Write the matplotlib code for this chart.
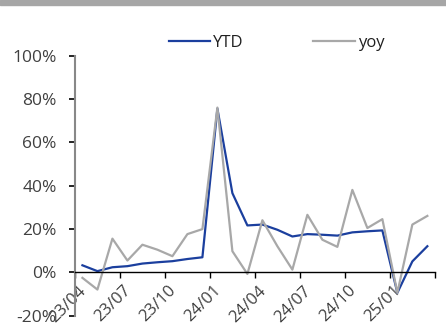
import matplotlib.pyplot as plt
import matplotlib.transforms as mtransforms
from matplotlib.patches import Rectangle

# monthly growth, 2023/04 - 2025/03 (%)
months = ['23/04', '23/05', '23/06', '23/07', '23/08', '23/09', '23/10', '23/11',
          '23/12', '24/01', '24/02', '24/03', '24/04', '24/05', '24/06', '24/07',
          '24/08', '24/09', '24/10', '24/11', '24/12', '25/01', '25/02', '25/03']
ytd = [3.2, 0.5, 2.3, 2.8, 4.0, 4.6, 5.1, 6.1, 6.9, 75.5, 36.5, 21.6,
       22.0, 19.6, 16.5, 17.6, 17.3, 16.9, 18.4, 18.9, 19.3, -9.5, 5.0, 12.0]
yoy = [-2.6, -8.0, 15.5, 5.4, 12.7, 10.4, 7.4, 17.6, 19.9, 76.0, 9.7, -0.8,
       24.0, 12.0, 1.2, 26.5, 15.0, 11.7, 38.0, 20.4, 24.5, -9.5, 22.0, 26.0]
tick_labels = ['23/04', '23/07', '23/10', '24/01', '24/04', '24/07', '24/10', '25/01', '']

plt.rcParams['font.family'] = ['Open Sans', 'DejaVu Sans']
fig = plt.figure(figsize=(4.46, 3.27), dpi=100)
ax = fig.add_axes([0.168, 0.035, 0.807, 0.795])

x = [i + 0.5 for i in range(len(months))]
ax.plot(x, ytd, color='#1b3f9e', lw=1.6, label='YTD')
ax.plot(x, yoy, color='#a8a8a8', lw=1.6, label='yoy')

# axis styling (spine position first, it resets the ticks)
for s in ['top', 'right']:
    ax.spines[s].set_visible(False)
ax.spines['bottom'].set_position(('data', 0))
ax.spines['bottom'].set_color('black')
ax.spines['bottom'].set_linewidth(1.0)
ax.spines['left'].set_color('#888888')
ax.spines['left'].set_linewidth(1.5)

ax.set_xlim(0, 24)
ax.set_ylim(-20, 100)
ax.set_yticks(range(-20, 101, 20))
ax.set_yticklabels([f'{v}%' for v in range(-20, 101, 20)], fontsize=12.5, color='#404040')
ax.set_xticks(range(0, 25, 3))
ax.set_xticklabels(tick_labels, fontsize=12, color='#404040',
                   rotation=45, ha='right', va='top', rotation_mode='anchor')
ax.tick_params(axis='x', direction='out', length=4, width=1, color='black', pad=3)
ax.tick_params(axis='y', direction='out', length=4, width=1.2, color='black', pad=9)
offset = mtransforms.ScaledTranslation(2 / 72, -0.5 / 72, fig.dpi_scale_trans)
for lbl in ax.get_xticklabels():
    lbl.set_transform(lbl.get_transform() + offset)

fig.legend(loc='center', bbox_to_anchor=(0.62, 0.868), ncol=2, frameon=False,
           fontsize=12, handlelength=2.5, columnspacing=4.2, handletextpad=0.15,
           labelcolor='#202020')

# grey header strip
fig.patches.append(Rectangle((0, 1 - 5 / 327), 1, 5 / 327, transform=fig.transFigure,
                             color='#a6a6a6', zorder=0))

fig.savefig('out.png', dpi=100)
